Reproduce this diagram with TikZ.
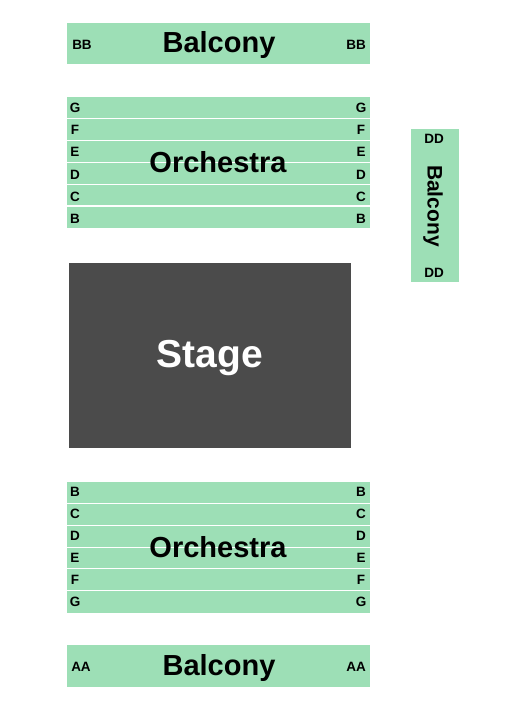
\documentclass[tikz,border=0pt]{standalone}
\usepackage{fontspec}
\setmainfont{Liberation Sans}
\definecolor{seat}{RGB}{157,223,182}
\definecolor{stagec}{RGB}{75,75,75}
\tikzset{
  seatarea/.style={fill=seat},
  rowline/.style={draw=white,line width=1.1pt},
  rowlab/.style={font=\bfseries\fontsize{13.5}{13.5}\selectfont,inner sep=0pt,anchor=center},
  bigname/.style={font=\bfseries\fontsize{29}{29}\selectfont,inner sep=0pt,anchor=base},
}
\begin{document}
\begin{tikzpicture}[x=1pt,y=-1pt]
\useasboundingbox (0,0) rectangle (525,710);
% top balcony
\fill[seatarea] (67,23) rectangle (370,64);
\node[bigname] (balT) at (219,52.5) {Balcony};
\node[rowlab] (bbL) at (82,45) {BB};
\node[rowlab] (bbR) at (356,45) {BB};
% top orchestra
\fill[seatarea] (67,97) rectangle (370,228);
\foreach \y in {118.8,140.6,162.4,184.2,206} \draw[rowline] (67,\y) -- (370,\y);
\node[bigname] (orchT) at (218,172.5) {Orchestra};
\foreach \l/\y [count=\i] in {G/108,F/130,E/152,D/175,C/197,B/219}{
  \node[rowlab] (tl\i) at (75,\y) {\l};
  \node[rowlab] (tr\i) at (361,\y) {\l};
}
% right balcony
\fill[seatarea] (411,129) rectangle (459,282);
\node[font=\bfseries\fontsize{21}{21}\selectfont,inner sep=0pt,rotate=-90] (balR) at (433,206) {Balcony};
\node[rowlab] (ddT) at (434,139) {DD};
\node[rowlab] (ddB) at (434,273) {DD};
% stage
\fill[stagec] (69,263) rectangle (351,448);
\node[font=\bfseries\fontsize{39}{39}\selectfont,text=white,inner sep=0pt,anchor=base] (stage) at (210,367) {Stage};
% bottom orchestra
\fill[seatarea] (67,482) rectangle (370,613);
\foreach \y in {503.5,525.3,547.1,568.9,590.7} \draw[rowline] (67,\y) -- (370,\y);
\node[bigname] (orchB) at (218,557.5) {Orchestra};
\foreach \l/\y [count=\i] in {B/492,C/514,D/536,E/558,F/580,G/602}{
  \node[rowlab] (bl\i) at (75,\y) {\l};
  \node[rowlab] (br\i) at (361,\y) {\l};
}
% bottom balcony
\fill[seatarea] (67,645) rectangle (370,687);
\node[bigname] (balB) at (219,675.5) {Balcony};
\node[rowlab] (aaL) at (81,667) {AA};
\node[rowlab] (aaR) at (356,667) {AA};
\end{tikzpicture}
\end{document}
